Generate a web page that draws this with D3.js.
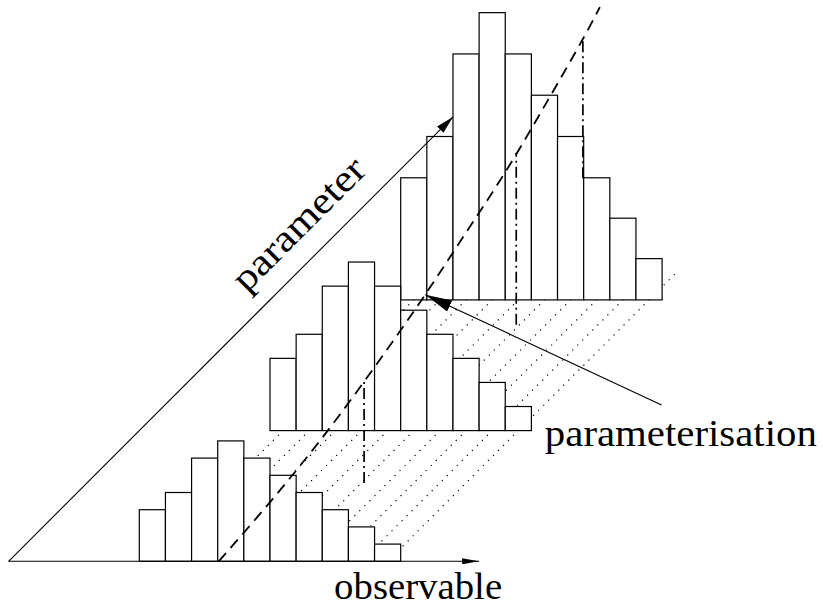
<!DOCTYPE html>
<html lang="en">
<head>
<meta charset="UTF-8">
<title>Parameterisation of a histogram</title>
<script src="https://d3js.org/d3.v7.min.js"></script>
<style>
  body { margin: 0; background: #fff; }
  svg { display: block; }
  .label { font-family: "Liberation Serif", "DejaVu Serif", serif; font-size: 38px; fill: #000; }
</style>
</head>
<body>
<div id="chart"></div>
<script>
// histogram parameter values (depth) and their bin contents
const histParams = [0, 1, 2];
const countsLow  = [3, 4, 6, 7, 6, 5, 4, 3, 2, 1];
const countsMid  = [4.2, 5.6, 8.4, 9.8, 8.4, 7, 5.6, 4.2, 2.8, 1.4];
const countsHigh = [7.1, 9.5, 14.3, 16.7, 14.3, 11.9, 9.5, 7.1, 4.75, 2.4];
const binEdges = [0, 1, 2, 3, 4, 5, 6, 7, 8, 9, 10];

// dashed parameterisation curve (parameter -> observable)
const curveParam = [0, 0.5, 1, 1.5, 2, 2.5, 3, 3.5, 4, 4.24];
const curveObs   = [3.04, 2.70, 2.21, 1.55, 0.80, -0.05, -0.93, -1.95, -3.02, -3.58];

// dash-dot drop lines
const markObs    = [5.6, 5.37, 2.32];
const markParam  = [0.6, 1.81, 2.93];
const markHeight = [5.95, 10, 8.2];

// axis extents
const obsRange = [-5, 13];
const paramMax = 3.4;
const guideMax = 2.21;
const arrowTip = [0.74, 2.04];   // obs, param
const arrowTail = [14.0, 1.196];

const width = 823, height = 608;

const svg = d3.select("#chart").append("svg")
    .attr("width", width)
    .attr("height", height);

// scales: observable along x, count upwards, parameter along the 45 degree depth
const x = d3.scaleLinear().domain([0, 10]).range([139.3, 400.7]);
const y = d3.scaleLinear().domain([0, 10]).range([561.3, 389.3]);
const depth = d3.scaleLinear().domain([0, 1]).range([0, 130.7]);

function pt(o, p, h = 0) {
    return [x(o) + depth(p), y(h) - depth(p)];
}

// arrow heads
const defs = svg.append("defs");
function arrowHead(id, len, half) {
    defs.append("marker")
        .attr("id", id)
        .attr("markerUnits", "userSpaceOnUse")
        .attr("viewBox", `0 ${-half} ${len} ${2 * half}`)
        .attr("refX", len).attr("refY", 0)
        .attr("markerWidth", len).attr("markerHeight", 2 * half)
        .attr("orient", "auto")
        .append("path")
        .attr("d", `M0,${-half}L${len},0L0,${half}Z`)
        .attr("fill", "#000");
}
arrowHead("arrSmall", 17, 3);
arrowHead("arrPar", 18, 4.5);
arrowHead("arrBig", 27, 6);

// dotted guide lines at the bin centres
const binCentres = binEdges.slice(0, -1).map(e => e + 0.5);
svg.append("g").selectAll("line")
    .data(binCentres)
    .enter().append("line")
    .attr("x1", d => pt(d, 0)[0]).attr("y1", d => pt(d, 0)[1])
    .attr("x2", d => pt(d, guideMax)[0]).attr("y2", d => pt(d, guideMax)[1])
    .attr("stroke", "#000")
    .attr("stroke-width", 1.2)
    .attr("stroke-dasharray", "1.2,5.9");

// histograms, back to front
const histCounts = [countsLow, countsMid, countsHigh];
[2, 1, 0].forEach(k => {
    const p = histParams[k];
    svg.append("g").selectAll("rect")
        .data(histCounts[k])
        .enter().append("rect")
        .attr("x", (d, i) => pt(binEdges[i], p, d)[0])
        .attr("y", (d, i) => pt(binEdges[i], p, d)[1])
        .attr("width", (d, i) => x(binEdges[i + 1]) - x(binEdges[i]))
        .attr("height", d => y(0) - y(d))
        .attr("fill", "#fff")
        .attr("stroke", "#000")
        .attr("stroke-width", 1.2);
});

// axes
const o0 = pt(obsRange[0], 0), o1 = pt(obsRange[1], 0), p1 = pt(obsRange[0], paramMax);
svg.append("line")
    .attr("x1", o0[0]).attr("y1", o0[1]).attr("x2", o1[0]).attr("y2", o1[1])
    .attr("stroke", "#000").attr("stroke-width", 1.1)
    .attr("marker-end", "url(#arrSmall)");
svg.append("line")
    .attr("x1", o0[0]).attr("y1", o0[1]).attr("x2", p1[0]).attr("y2", p1[1])
    .attr("stroke", "#000").attr("stroke-width", 1.1)
    .attr("marker-end", "url(#arrPar)");

// dashed curve
const curvePts = curveParam.map((p, i) => pt(curveObs[i], p));
svg.append("path")
    .attr("d", d3.line().curve(d3.curveCatmullRom)(curvePts))
    .attr("fill", "none")
    .attr("stroke", "#000")
    .attr("stroke-width", 1.8)
    .attr("stroke-dasharray", "11,7");

// dash-dot drop lines
svg.append("g").selectAll("line")
    .data(markObs)
    .enter().append("line")
    .attr("x1", (d, i) => pt(d, markParam[i])[0])
    .attr("y1", (d, i) => pt(d, markParam[i])[1])
    .attr("x2", (d, i) => pt(d, markParam[i], markHeight[i])[0])
    .attr("y2", (d, i) => pt(d, markParam[i], markHeight[i])[1])
    .attr("stroke", "#000")
    .attr("stroke-width", 1.7)
    .attr("stroke-dasharray", "11,4,2,4");

// annotation arrow
const tip = pt(arrowTip[0], arrowTip[1]), tail = pt(arrowTail[0], arrowTail[1]);
svg.append("line")
    .attr("x1", tail[0]).attr("y1", tail[1]).attr("x2", tip[0]).attr("y2", tip[1])
    .attr("stroke", "#000").attr("stroke-width", 1.1)
    .attr("marker-end", "url(#arrBig)");

// labels
svg.append("text").attr("class", "label")
    .attr("x", tail[0] - 116.7).attr("y", tail[1] + 41)
    .attr("textLength", 272).attr("lengthAdjust", "spacingAndGlyphs")
    .text("parameterisation");

svg.append("text").attr("class", "label")
    .attr("x", o1[0] + 23).attr("y", o1[1] + 38)
    .attr("text-anchor", "end")
    .attr("textLength", 168).attr("lengthAdjust", "spacingAndGlyphs")
    .text("observable");

const pl = pt(obsRange[0], 2.4);
svg.append("text").attr("class", "label")
    .attr("transform", `translate(${pl[0] - 15},${pl[1] - 15}) rotate(-45)`)
    .attr("text-anchor", "middle")
    .attr("textLength", 172).attr("lengthAdjust", "spacingAndGlyphs")
    .text("parameter");
</script>
</body>
</html>
